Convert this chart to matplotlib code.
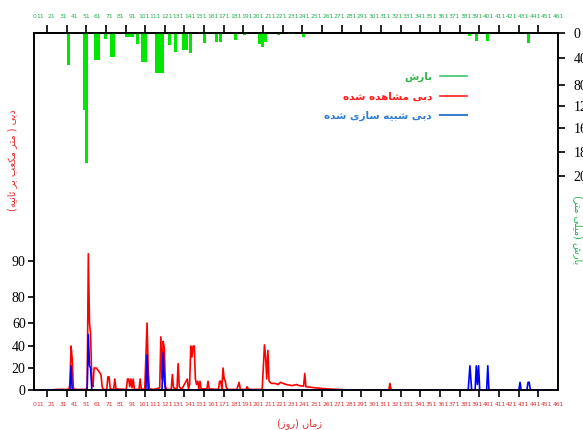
import numpy as np
import matplotlib
matplotlib.use("Agg")
import matplotlib.pyplot as plt
from matplotlib.lines import Line2D
from matplotlib.ticker import FixedLocator, NullFormatter

# ---------------------------------------------------------------- data
# observed discharge (m3/s), day -> value
obs_day = [6, 20, 25, 36, 37, 38, 39, 40, 41, 51, 52, 53, 54, 55, 56, 57, 58, 60,
           62, 64, 65, 66, 69, 70, 71, 72, 75, 76, 77, 86, 87, 88, 89, 90, 91, 92,
           93, 97, 98, 99, 102, 103, 104, 105, 106, 110, 115, 116, 117, 118, 119,
           120, 121, 125, 126, 127, 130, 131, 132, 134, 139, 140, 141, 142, 143,
           144, 145, 146, 147, 148, 149, 150, 151, 156, 157, 158, 166, 167, 168,
           169, 170, 171, 172, 173, 174, 182, 184, 185, 190, 191, 192, 204, 205,
           206, 207, 208, 209, 210, 212, 215, 218, 220, 222, 225, 230, 234, 236,
           240, 241, 242, 250, 260, 270, 280, 314, 315, 316, 461]
obs_q = [0, 0, 0.5, 0.5, 5, 40, 28, 2, 0.5, 0.5, 3, 92, 60, 50, 8, 3, 20, 20,
         17, 14, 3, 0.5, 0.5, 12, 12, 1, 0.5, 10, 1, 0.5, 10, 10, 3, 10, 2, 10,
         0.5, 0.5, 10, 1, 0.5, 30, 60, 20, 1, 0.5, 2, 48, 10, 44, 38,
         3, 0.5, 0.5, 14, 2, 0.5, 24, 3, 0.5, 10, 1, 5, 40, 30,
         40, 40, 10, 5, 8, 1, 8, 1, 1, 8, 1, 0.5, 8, 8,
         1, 20, 10, 8, 2, 0.5, 0.5, 7, 0.5, 0.5, 3, 0.5, 0.5, 20,
         41, 30, 10, 36, 8, 6, 6, 5, 7, 6, 5, 4, 5, 4,
         3.5, 15, 3, 2, 1, 0.5, 0, 0, 6, 0, 0]

# simulated discharge (m3/s)
sim_day = [6, 37, 38, 39, 52, 53, 54, 55, 56, 103, 104, 105, 117, 118, 119, 120,
           383, 384.5, 386, 389, 390, 391, 392, 393, 399, 400, 401, 427, 428, 429,
           434, 435, 436, 437, 461]
sim_q = [0, 0, 22, 0, 0, 50, 22, 20, 0, 0, 32, 0, 0, 34, 9, 0,
         0, 22, 0, 0, 22, 5, 22, 0, 0, 22, 0, 0, 7, 0,
         0, 7, 7, 0, 0]

# daily rainfall (mm)
rain_day = [35.5, 49.5, 51.8, 59.5, 61.5, 67.5, 73, 75, 86, 88.5, 91, 96, 100,
            102.5, 112, 114.5, 117, 123.5, 128.5, 136, 138.5, 142, 153.5, 164.5,
            167.5, 180.5, 189, 201.5, 204.5, 207, 218.5, 228, 231, 240, 384, 390,
            400, 426, 435]
rain_mm = [50, 127, 189, 43, 43, 10, 38, 38, 6, 6, 6, 18, 46,
           46, 62, 62, 62, 19, 30, 27, 27, 32, 16, 14,
           14, 11, 3, 18, 22, 14, 3, 2, 2, 6, 4, 13,
           13, 2, 16]

# axis tick labels
flow_ticks = [0, 20, 40, 60, 80, 90]
rain_ticks = [0, 40, 80, 120, 160, 180, 200]
day_ticks = list(range(11, 462, 10))

# uneven spacing of the two value axes (relative screen distance of each tick)
flow_scale_pos = [0, 22, 44, 67, 93, 129]
rain_scale_pos = [0, 25, 52, 73, 95, 119, 143]

# ---------------------------------------------------------------- helpers
FORMS = {
    'ا': ('\uFE8D', '\uFE8E', None, None),
    'ب': ('\uFE8F', '\uFE90', '\uFE91', '\uFE92'),
    'ت': ('\uFE95', '\uFE96', '\uFE97', '\uFE98'),
    'ث': ('\uFE99', '\uFE9A', '\uFE9B', '\uFE9C'),
    'د': ('\uFEA9', '\uFEAA', None, None),
    'ر': ('\uFEAD', '\uFEAE', None, None),
    'ز': ('\uFEAF', '\uFEB0', None, None),
    'س': ('\uFEB1', '\uFEB2', '\uFEB3', '\uFEB4'),
    'ش': ('\uFEB5', '\uFEB6', '\uFEB7', '\uFEB8'),
    'ع': ('\uFEC9', '\uFECA', '\uFECB', '\uFECC'),
    'ک': ('\uFB8E', '\uFB8F', '\uFB90', '\uFB91'),
    'ل': ('\uFEDD', '\uFEDE', '\uFEDF', '\uFEE0'),
    'م': ('\uFEE1', '\uFEE2', '\uFEE3', '\uFEE4'),
    'ن': ('\uFEE5', '\uFEE6', '\uFEE7', '\uFEE8'),
    'ه': ('\uFEE9', '\uFEEA', '\uFEEB', '\uFEEC'),
    'و': ('\uFEED', '\uFEEE', None, None),
    'ی': ('\uFBFC', '\uFBFD', '\uFBFE', '\uFBFF'),
}


def rtl(text):
    """Join Persian letters into contextual forms and lay them out right-to-left."""
    out = []
    for i, ch in enumerate(text):
        if ch not in FORMS:
            out.append(ch)
            continue
        prev = text[i - 1] if i > 0 else ''
        nxt = text[i + 1] if i + 1 < len(text) else ''
        join_prev = prev in FORMS and FORMS[prev][2] is not None
        join_next = FORMS[ch][2] is not None and nxt in FORMS
        iso, fin, ini, med = FORMS[ch]
        if join_prev and join_next:
            out.append(med)
        elif join_prev:
            out.append(fin)
        elif join_next:
            out.append(ini)
        else:
            out.append(iso)
    mirror = {'(': ')', ')': '('}
    return ''.join(mirror.get(c, c) for c in reversed(out))


def piecewise_scale(values, pos):
    kv = np.asarray(values, float)
    kp = np.asarray(pos, float)
    s_lo = (kp[1] - kp[0]) / (kv[1] - kv[0])
    s_hi = (kp[-1] - kp[-2]) / (kv[-1] - kv[-2])

    def fwd(v):
        v = np.asarray(v, float)
        p = np.interp(v, kv, kp)
        p = np.where(v > kv[-1], kp[-1] + (v - kv[-1]) * s_hi, p)
        p = np.where(v < kv[0], kp[0] + (v - kv[0]) * s_lo, p)
        return p

    def inv(p):
        p = np.asarray(p, float)
        v = np.interp(p, kp, kv)
        v = np.where(p > kp[-1], kv[-1] + (p - kp[-1]) / s_hi, v)
        v = np.where(p < kp[0], kv[0] + (p - kp[0]) / s_lo, v)
        return v

    return fwd, inv


# ---------------------------------------------------------------- figure
plt.rcParams['font.family'] = ['DejaVu Sans']
fig = plt.figure(figsize=(5.83, 4.30), dpi=100)
ax = fig.add_axes([34 / 583, 40 / 430, 524 / 583, 357 / 430])
ax2 = ax.twinx()

GREEN_BAR = '#00e600'
RED = '#ff0000'
BLUE = '#0000ff'

# discharge lines
ax.plot(obs_day, obs_q, color=RED, lw=1.2, zorder=2)
ax.plot(sim_day, sim_q, color=BLUE, lw=1.2, zorder=3)

fwd, inv = piecewise_scale(flow_ticks, flow_scale_pos)
ax.set_yscale('function', functions=(fwd, inv))
ax.set_ylim(0, float(inv(357)))
ax.set_xlim(5.8, 461)

# rainfall bars hanging from the top
ax2.bar(rain_day, rain_mm, width=2.6, color=GREEN_BAR, edgecolor='none', zorder=2)
rfwd, rinv = piecewise_scale(rain_ticks, rain_scale_pos)
ax2.set_yscale('function', functions=(rfwd, rinv))
ax2.set_ylim(float(rinv(357)), 0)

# value axes
serif = ['Liberation Serif', 'DejaVu Serif']
ax.yaxis.set_major_locator(FixedLocator(flow_ticks))
ax.set_yticklabels([str(t) for t in flow_ticks], family=serif, fontsize=10)
ax.yaxis.set_minor_locator(FixedLocator([]))
ax.tick_params(axis='y', direction='out', length=4, width=1.2, pad=2)

ax2.yaxis.set_major_locator(FixedLocator(rain_ticks))
ax2.set_yticklabels([str(t) for t in rain_ticks], family=serif, fontsize=10)
ax2.yaxis.set_minor_locator(FixedLocator([]))
ax2.tick_params(axis='y', direction='out', length=5, width=1.2, pad=6)

# day axis: labels on both sides, small outward marks in between
tick_pos = [6] + day_ticks
tick_lab = ['0'] + [str(d) for d in day_ticks]
mark_pos = np.linspace(17, 461, 27)

ax.xaxis.set_major_locator(FixedLocator(tick_pos))
ax.set_xticklabels(tick_lab, fontsize=4.3, color='#e03030')
ax.xaxis.set_minor_locator(FixedLocator(mark_pos))
ax.xaxis.set_minor_formatter(NullFormatter())
ax.tick_params(axis='x', which='major', length=0, pad=9)
ax.tick_params(axis='x', which='minor', direction='out', length=5, width=1.2)

top = ax.secondary_xaxis('top')
top.xaxis.set_major_locator(FixedLocator(tick_pos))
top.set_xticklabels(tick_lab, fontsize=4.3, color='#22b24c')
top.xaxis.set_minor_locator(FixedLocator(mark_pos))
top.xaxis.set_minor_formatter(NullFormatter())
top.tick_params(axis='x', which='major', length=0, pad=10)
top.tick_params(axis='x', which='minor', direction='out', length=6, width=1.2)
top.spines['top'].set_linewidth(1.2)

for a in (ax, ax2):
    for s in a.spines.values():
        s.set_linewidth(1.2)

# axis titles
fig.text(12 / 583, 1 - 160 / 430, rtl('دبی ( متر مکعب بر ثانیه)'), rotation=90,
         color='#e03030', fontsize=7, ha='center', va='center')
fig.text(578 / 583, 1 - 230 / 430, rtl('بارش (میلی متر)'), rotation=270,
         color='#22b24c', fontsize=7, ha='center', va='center')
fig.text(300 / 583, 1 - 424 / 430, rtl('زمان (روز)'), color='#e03030',
         fontsize=7, ha='center', va='center')

# legend
handles = [Line2D([], [], color='#3ec46d', lw=1.2),
           Line2D([], [], color='#ff2020', lw=1.2),
           Line2D([], [], color='#3d7fcc', lw=1.5)]
labels = [rtl('بارش'), rtl('دبی مشاهده شده'), rtl('دبی شبیه سازی شده')]
leg = ax.legend(handles, labels, loc='upper right', bbox_to_anchor=(0.845, 0.918),
                markerfirst=False, frameon=False,
                prop={'weight': 'bold', 'size': 7.5}, handlelength=2.6,
                labelspacing=0.9)
for t, c in zip(leg.get_texts(), ['#2eb34a', '#ff1a1a', '#2e7bcf']):
    t.set_color(c)

fig.savefig('out.png', dpi=100)
